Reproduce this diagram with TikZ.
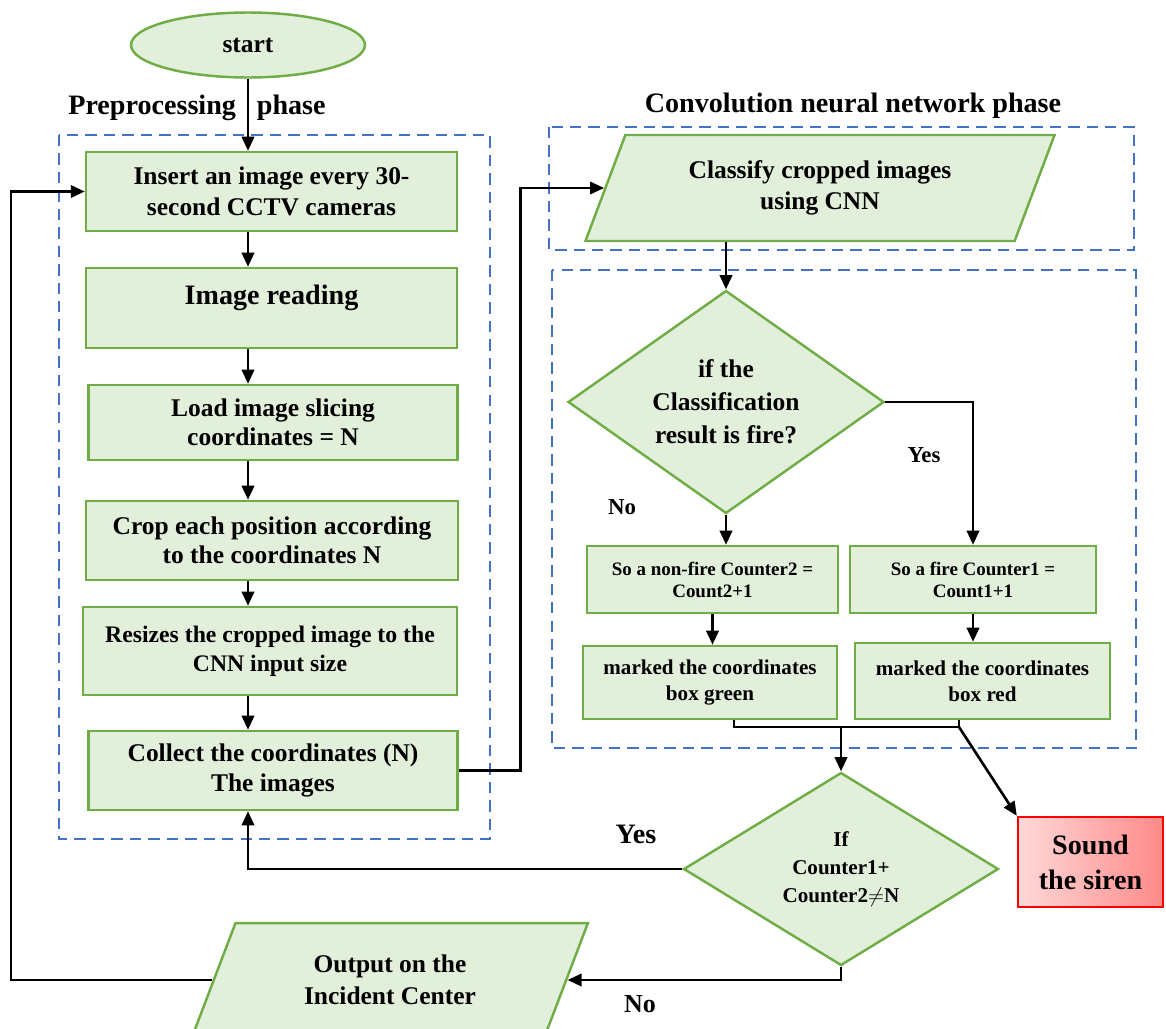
\documentclass[tikz,border=0pt]{standalone}
\usepackage{fontspec}
\setmainfont{Liberation Serif}
\usetikzlibrary{shapes.geometric,arrows.meta,positioning}
\definecolor{boxfill}{RGB}{226,239,218}
\definecolor{boxline}{RGB}{112,173,71}
\definecolor{phaseblue}{RGB}{68,114,196}
\definecolor{sirenline}{RGB}{255,0,0}
\newcommand{\fsz}[2]{\fontsize{#1}{#2}\selectfont\bfseries}
\tikzset{
  procbox/.style={draw=boxline,fill=boxfill,line width=1.4pt,rectangle,align=center,inner sep=0pt},
  iobox/.style={procbox,trapezium,trapezium left angle=64,trapezium right angle=116,trapezium stretches=true},
  decbox/.style={procbox,diamond,aspect=1.4},
  phasebox/.style={draw=phaseblue,line width=1.3pt,dash pattern=on 6.5pt off 4pt},
  flow/.style={line width=1.5pt,->},
  lbl/.style={font=\fsz{13}{15}}
}
\begin{document}
\begin{tikzpicture}[x=0.02cm,y=-0.02cm,>={Stealth[length=8pt,width=7pt,inset=0pt]}]
          \useasboundingbox (0,0) rectangle (1166,1028);
          % phase frames
          \draw[phasebox] (59,135) rectangle (490,839);
          \draw[phasebox] (549,127) rectangle (1134,250);
          \draw[phasebox] (552,270) rectangle (1136,748);
          \node[font=\fsz{16}{18}] (pretitle) at (197,108) {Preprocessing\hspace{0.42cm}phase};
          \node[font=\fsz{16}{18}] (cnntitle) at (853,106) {Convolution neural network phase};

          % preprocessing
          \node[procbox,ellipse,minimum width=4.68cm,minimum height=1.3cm,font=\fsz{14.5}{17}] (start) at (248,45) {start};
          \node[procbox,minimum width=7.42cm,minimum height=1.58cm,font=\fsz{14.5}{18}] (insert) at (271.5,191.5) {Insert an image every 30-\\second CCTV cameras};
          \node[procbox,minimum width=7.42cm,minimum height=1.6cm,text depth=0.55cm,font=\fsz{16}{18}] (read) at (271.5,308) {Image reading};
          \node[procbox,minimum width=7.38cm,minimum height=1.5cm,font=\fsz{14.5}{16.5}] (load) at (273,422.5) {Load image slicing\\coordinates = N};
          \node[procbox,minimum width=7.44cm,minimum height=1.58cm,font=\fsz{14.5}{16.5}] (crop) at (272,540.5) {Crop each position according\\to the coordinates N};
          \node[procbox,minimum width=7.48cm,minimum height=1.76cm,font=\fsz{13.5}{16.5}] (resize) at (270,651) {Resizes the cropped image to the\\CNN input size};
          \node[procbox,minimum width=7.38cm,minimum height=1.58cm,font=\fsz{14.5}{17}] (collect) at (273,770.5) {Collect the coordinates (N)\\The images};
          \node[iobox,minimum width=7.93cm,minimum height=2.28cm,font=\fsz{14.5}{18}] (output) at (390,980) {Output on the\\Incident Center};

          % CNN
          \node[iobox,minimum width=9.4cm,minimum height=2.12cm,font=\fsz{14.5}{18}] (classify) at (820,188) {Classify cropped images\\using CNN};
          \node[decbox,minimum width=6.32cm,minimum height=4.46cm,font=\fsz{14.5}{18.7}] (dec1) at (726,402) {if the\\Classification\\result is fire?};
          \node[procbox,minimum width=5.02cm,minimum height=1.34cm,font=\fsz{10.8}{12.5}] (nonfire) at (712.5,579.5) {So a non-fire Counter2 =\\Count2+1};
          \node[procbox,minimum width=4.92cm,minimum height=1.34cm,font=\fsz{10.8}{12.5}] (fire) at (973,579.5) {So a fire Counter1 =\\Count1+1};
          \node[procbox,minimum width=5.08cm,minimum height=1.46cm,font=\fsz{12}{14.7}] (markgreen) at (710,682.5) {marked the coordinates\\box green};
          \node[procbox,minimum width=5.1cm,minimum height=1.52cm,font=\fsz{12}{14.7}] (markred) at (982.5,681) {marked the coordinates\\box red};
          \node[decbox,minimum width=6.3cm,minimum height=3.86cm,font=\fsz{12}{16}] (dec2) at (841,869) {If\\Counter1+\\Counter2$\neq$N};
          \node[draw=sirenline,line width=1.4pt,left color={rgb,255:red,255;green,216;blue,216},right color={rgb,255:red,255;green,138;blue,138},minimum width=2.9cm,minimum height=1.8cm,align=center,font=\fsz{16}{20}] (siren) at (1090.5,862) {Sound\\the siren};

          \node[lbl] (yesfire) at (924,455) {Yes};
          \node[lbl] (nofire) at (622,507) {No};
          \node[font=\fsz{16}{18}] (yesloop) at (636,834) {Yes};
          \node[font=\fsz{14.8}{17}] (noloop) at (640,1004) {No};

          % connectors
          \draw[flow] (start) -- (insert.north -| start);
          \foreach \a/\b in {insert/read,read/load,load/crop,crop/resize,resize/collect}
            \draw[flow] (\a.south -| start) -- (\b.north -| start);
          \draw[flow] (collect.east) -- ++(62,0) |- (classify.west);
          \draw[flow] (classify.south -| dec1.north) -- (dec1.north);
          \draw[flow] (dec1.south) -- (dec1.south |- nonfire.north);
          \draw[flow] (dec1.east) -| (fire.north);
          \draw[flow] (nonfire.south) -- (markgreen.north -| nonfire.south);
          \draw[flow] (fire.south) -- (markred.north -| fire.south);

          \coordinate (join) at (841,727);
          \coordinate (gdrop) at ([xshift=0.48cm]markgreen.south);
          \coordinate (rdrop) at ([xshift=-0.47cm]markred.south);
          \draw[line width=1.5pt] (gdrop) |- (rdrop |- join) -- (rdrop);
          \draw[flow] (join) -- (dec2.north);
          \draw[flow] (rdrop |- join) -- (siren.north west);

          \draw[flow] (dec2.west) -| (collect.south -| start);
          \draw[flow] (dec2.south) |- (output.east);
          \coordinate (loopx) at (11,0);
          \draw[flow] (output.west) -- (output.west -| loopx) |- (insert.west);
        \end{tikzpicture}
\end{document}
